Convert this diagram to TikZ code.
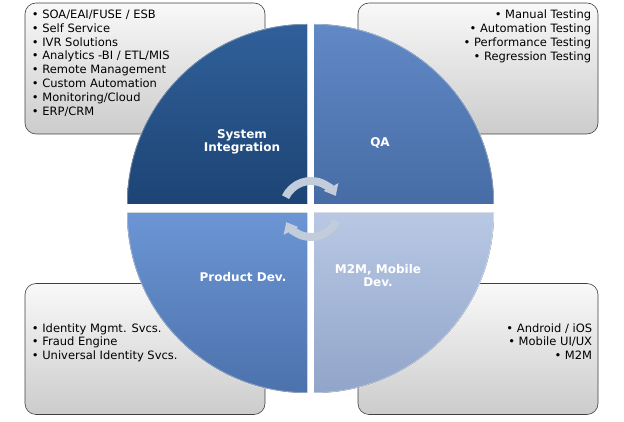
\documentclass[tikz,border=0pt]{standalone}
\usepackage{fontspec}
\setmainfont{DejaVu Sans}
\usetikzlibrary{positioning}
\usetikzlibrary{arrows.meta}
\definecolor{sitop}{HTML}{30609A}
\definecolor{sibot}{HTML}{1D4474}
\definecolor{qatop}{HTML}{6189C6}
\definecolor{qabot}{HTML}{476CA5}
\definecolor{pdtop}{HTML}{6B95D4}
\definecolor{pdbot}{HTML}{4C72AC}
\definecolor{mmtop}{HTML}{B8C8E4}
\definecolor{mmbot}{HTML}{91A5CA}
\definecolor{arrowgray}{HTML}{C2CCDA}
\tikzset{
    infobox/.style = {rectangle, rounded corners=11pt, draw=black!75, semithick, minimum width=240pt, minimum height=131pt, top color=gray!5, bottom color=gray!40},
    infotext/.style = {inner sep=0pt, font=\fontsize{11.5}{13.8}\selectfont},
    quadlabel/.style = {align=center, text=white, font=\fontsize{12}{13}\selectfont\bfseries},
    quadrim/.style = {draw=white, draw opacity=0.35, line width=1.5pt},
    cyclearrow/.style = {-{Triangle[width=16pt,length=10pt]}, line width=8pt, draw=arrowgray}
}

\begin{document}
\begin{tikzpicture}[x=1pt, y=1pt]
  \useasboundingbox (0,0) rectangle (624,422);

  % boxes behind the wheel
  \node[infobox] (sibox) at (145,353.5) {};
  \node[infobox] (qabox) at (478,353.5) {};
  \node[infobox] (pdbox) at (145,73) {};
  \node[infobox] (mmbox) at (478,73) {};

  \node[infotext, align=left, anchor=north west] (sitext) at ([shift={(7,-7)}]sibox.north west)
    {• SOA/EAI/FUSE / ESB\\• Self Service\\• IVR Solutions\\• Analytics -BI / ETL/MIS\\• Remote Management\\• Custom Automation\\• Monitoring/Cloud\\• ERP/CRM};
  \node[infotext, align=right, anchor=north east] (qatext) at ([shift={(-7,-7)}]qabox.north east)
    {• Manual Testing\\• Automation Testing\\• Performance Testing\\• Regression Testing};
  \node[infotext, align=left, anchor=north west] (pdtext) at ([shift={(7,-40)}]pdbox.north west)
    {• Identity Mgmt. Svcs.\\• Fraud Engine\\• Universal Identity Svcs.};
  \node[infotext, align=right, anchor=north east] (mmtext) at ([shift={(-6,-40)}]mmbox.north east)
    {• Android / iOS\\• Mobile UI/UX\\• M2M};

  % the four quarters
  \fill[top color=sitop, bottom color=sibot] (307,218) -- (127,218) arc[start angle=180, end angle=90, radius=180] -- cycle;
  \fill[top color=qatop, bottom color=qabot] (314,218) -- (314,398) arc[start angle=90, end angle=0, radius=180] -- cycle;
  \fill[top color=pdtop, bottom color=pdbot] (307,209) -- (307,29) arc[start angle=270, end angle=180, radius=180] -- cycle;
  \fill[top color=mmtop, bottom color=mmbot] (314,209) -- (494,209) arc[start angle=0, end angle=-90, radius=180] -- cycle;
  \draw[quadrim] (127,218) arc[start angle=180, end angle=90, radius=180];
  \draw[quadrim] (314,398) arc[start angle=90, end angle=0, radius=180];
  \draw[quadrim] (307,29) arc[start angle=270, end angle=180, radius=180];
  \draw[quadrim] (494,209) arc[start angle=0, end angle=-90, radius=180];

  \node[quadlabel] (silabel) at (242,280) {System\\Integration};
  \node[quadlabel] (qalabel) at (380,279) {QA};
  \node[quadlabel] (pdlabel) at (243,145) {Product Dev.};
  \node[quadlabel] (mmlabel) at (378,146) {M2M, Mobile\\Dev.};

  % cycle arrows
  \coordinate (hub) at (311,213);
  \draw[cyclearrow] ([shift={(155:28)}]hub) arc[start angle=155, end angle=28, radius=28];
  \draw[cyclearrow] ([shift={(-25:28)}]hub) arc[start angle=-25, end angle=-152, radius=28];
\end{tikzpicture}
\end{document}
